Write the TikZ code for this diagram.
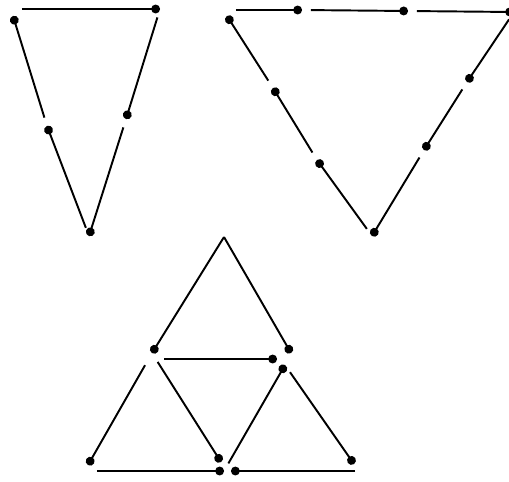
\documentclass[tikz,border=0pt]{standalone}
\usepackage{tikz}
\usetikzlibrary{arrows.meta}

\begin{document}
\begin{tikzpicture}[x=0.02cm,y=-0.02cm,
  vec/.style={line width=1.1pt,-{Circle[length=5pt]},shorten <=5pt},
  apexvec/.style={line width=1.1pt,-{Circle[length=5pt]}}]
  \useasboundingbox (0,0) rectangle (509,481);
  % upper left triangle, sides halved
  \coordinate (a1) at (13,16);
  \coordinate (a2) at (160,9);
  \coordinate (a3) at (126,119);
  \coordinate (a4) at (89,236);
  \coordinate (a5) at (47,126);
  \draw[vec] (a1 |- a2) -- (a2);
  \draw[vec] (a2) -- (a3);
  \draw[vec] (a3) -- (a4);
  \draw[vec] (a4) -- (a5);
  \draw[vec] (a5) -- (a1);
  % upper right triangle, sides in thirds
  \coordinate (b1) at (227,16);
  \coordinate (b2) at (302,10);
  \coordinate (b3) at (408,11);
  \coordinate (b4) at (514,12);
  \coordinate (b5) at (467,82);
  \coordinate (b6) at (424,150);
  \coordinate (b7) at (372,236);
  \coordinate (b8) at (317,160);
  \coordinate (b9) at (273,88);
  \draw[vec] (b1 |- b2) -- (b2);
  \draw[vec] (b2) -- (b3);
  \draw[vec] (b3) -- (b4);
  \draw[vec] (b4) -- (b5);
  \draw[vec] (b5) -- (b6);
  \draw[vec] (b6) -- (b7);
  \draw[vec] (b7) -- (b8);
  \draw[vec] (b8) -- (b9);
  \draw[vec] (b9) -- (b1);
  % lower triangle
  \coordinate (c0) at (224,237);
  \coordinate (c1) at (152,353);
  \coordinate (c2) at (291,353);
  \coordinate (c3) at (277,359);
  \coordinate (c4) at (285,365);
  \coordinate (c5) at (221,462);
  \coordinate (c6) at (224,471);
  \coordinate (c7) at (231,471);
  \coordinate (c8) at (88,465);
  \coordinate (c9) at (354,464);
  \coordinate (c10) at (364,471);
  \draw[apexvec] (c0) -- (c1);
  \draw[apexvec] (c0) -- (c2);
  \draw[vec,shorten <=7pt] (c1 |- c3) -- (c3);
  \draw[vec,shorten <=8pt] (c1) -- (c8);
  \draw[vec,shorten <=6pt] (c1) -- (c5);
  \draw[vec] (c6) -- (c4);
  \draw[vec] (c4) -- (c9);
  \draw[vec] (c8 |- c6) -- (c6);
  \draw[vec] (c10) -- (c7);
\end{tikzpicture}
\end{document}
